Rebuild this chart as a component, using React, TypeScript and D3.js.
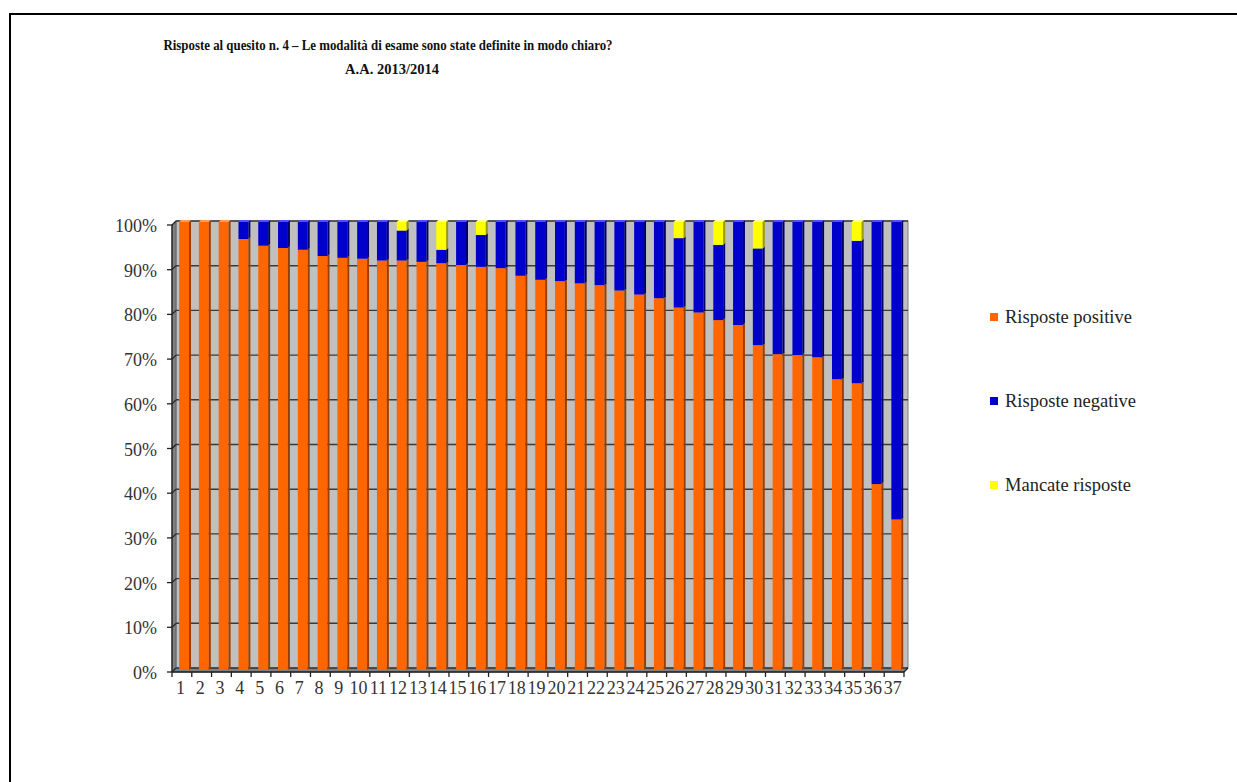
import React from 'react';
import * as d3 from 'd3';

const categories = ['1','2','3','4','5','6','7','8','9','10','11','12','13','14','15','16','17','18','19','20','21','22','23','24','25','26','27','28','29','30','31','32','33','34','35','36','37'];
const positive = [100,100,100,96.2,94.7,94.2,93.8,92.4,92.0,91.8,91.4,91.4,91.1,90.8,90.4,90.0,89.7,88.0,87.1,86.8,86.3,85.9,84.7,83.8,83.0,80.9,79.8,78.1,77.0,72.5,70.5,70.3,69.8,64.9,64.0,41.5,33.6];
const negative = [0,0,0,3.8,5.3,5.8,6.2,7.6,8.0,8.2,8.6,6.7,8.9,3.0,9.6,7.1,10.3,12.0,12.9,13.2,13.7,14.1,15.3,16.2,17.0,15.5,20.2,16.8,23.0,21.6,29.5,29.7,30.2,35.1,31.8,58.5,66.4];
const missing = [0,0,0,0,0,0,0,0,0,0,0,1.9,0,6.2,0,2.9,0,0,0,0,0,0,0,0,0,3.6,0,5.1,0,5.9,0,0,0,0,4.2,0,0];

const seriesKeys = ['pos','neg','miss'];
const seriesNames = ['Risposte positive','Risposte negative','Mancate risposte'];
const seriesColors = ['#FF6600','#0000CC','#FFFF00'];
const sideColors = ['#9A3E00','#000066','#9A9A00'];
const topColors = ['#FF9A5A','#5050FF','#FFFFA0'];
const yTicks = [0,10,20,30,40,50,60,70,80,90,100];
const titleLines = ['Risposte al quesito n. 4 \u2013 Le modalità di esame sono state definite in modo  chiaro?','A.A. 2013/2014'];

const FONT = "'Liberation Serif', 'DejaVu Serif', serif";

export default function App() {
  const W = 1237, H = 782;
  const dx = 4, dy = 4;
  const x = d3.scaleBand<string>().domain(categories).range([172, 904]);
  const yFront = d3.scaleLinear().domain([0, 100]).range([672, 225]);
  const yBack = d3.scaleLinear().domain([0, 100]).range([668, 221]);
  const yBar = d3.scaleLinear().domain([0, 100]).range([670, 222]);
  const bw = x.bandwidth();
  const fw = bw * 0.5;
  const fOff = bw * 0.36;
  const sd = 2;

  const rows = categories.map((c, i) => ({ cat: c, pos: positive[i], neg: negative[i], miss: missing[i] }));
  const stack = d3.stack<any>().keys(seriesKeys)(rows);

  const xL = 172, xR = 904;
  const yTop = yFront(100), yBot = yFront(0);

  const topIndex = rows.map(r => (r.miss > 0 ? 2 : r.neg > 0 ? 1 : 0));

  return (
    <svg width={W} height={H} style={{ position: 'absolute', left: 0, top: 0, background: '#fff' }} fontFamily={FONT}>
      <rect x={10} y={14} width={1400} height={1000} fill="#fff" stroke="#000" strokeWidth={2} />
      <text x={388} y={50} textAnchor="middle" fontWeight="bold" fontSize={14.5} fill="#111" textLength={449} lengthAdjust="spacingAndGlyphs">{titleLines[0]}</text>
      <text x={392} y={74} textAnchor="middle" fontWeight="bold" fontSize={14.5} fill="#111">{titleLines[1]}</text>
      {/* back wall */}
      <rect x={xL + dx} y={yBack(100)} width={xR - xL} height={yBack(0) - yBack(100)} fill="#C0C0C0" stroke="#808080" strokeWidth={1} />
      {/* left wall */}
      <polygon points={`${xL},${yTop} ${xL + dx},${yTop - dy} ${xL + dx},${yBot - dy} ${xL},${yBot}`} fill="#808080" stroke="#555" strokeWidth={0.8} />
      {/* floor */}
      <polygon points={`${xL},${yBot} ${xL + dx},${yBot - dy} ${xR + dx},${yBot - dy} ${xR},${yBot}`} fill="#808080" stroke="#555" strokeWidth={0.8} />
      {/* gridlines */}
      {yTicks.map(v => (
        <g key={v}>
          <line x1={xL + dx} x2={xR + dx} y1={yBack(v)} y2={yBack(v)} stroke="#3a3a3a" strokeWidth={1.4} />
          <line x1={xL} x2={xL + dx} y1={yFront(v)} y2={yBack(v)} stroke="#222" strokeWidth={1.2} />
        </g>
      ))}
      {/* bars */}
      {stack.map((s, si) => (
        <g key={si}>
          {s.map((d: any, i: number) => {
            if (d[1] - d[0] <= 0) return null;
            const bx = (x(d.data.cat) as number) + fOff;
            const y0 = yBar(d[0]);
            const y1 = yBar(d[1]);
            return (
              <g key={i}>
                <rect x={bx} y={y1} width={fw} height={y0 - y1} fill={seriesColors[si]} />
                <polygon points={`${bx + fw},${y1} ${bx + fw + sd},${y1 - sd} ${bx + fw + sd},${y0 - sd} ${bx + fw},${y0}`} fill={sideColors[si]} />
                {topIndex[i] === si && (
                  <polygon points={`${bx},${y1} ${bx + sd},${y1 - sd} ${bx + fw + sd},${y1 - sd} ${bx + fw},${y1}`} fill={topColors[si]} />
                )}
              </g>
            );
          })}
        </g>
      ))}
      {/* axes */}
      <line x1={xL} x2={xL} y1={yTop} y2={yBot} stroke="#222" strokeWidth={1.3} />
      <line x1={xL} x2={xR} y1={yBot} y2={yBot} stroke="#222" strokeWidth={1.3} />
      <line x1={xR} x2={xR + dx} y1={yBot} y2={yBot - dy} stroke="#222" strokeWidth={1.3} />
      {yTicks.map(v => (
        <g key={v}>
          <line x1={xL - 5} x2={xL} y1={yFront(v)} y2={yFront(v)} stroke="#222" strokeWidth={1.3} />
          <text x={157} y={yFront(v) + 7} textAnchor="end" fontSize={18} fill="#333">{v}%</text>
        </g>
      ))}
      {categories.map((c, i) => (
        <line key={'t' + c} x1={x(c) as number} x2={x(c) as number} y1={yBot} y2={yBot + 5} stroke="#222" strokeWidth={1.3} />
      ))}
      <line x1={xR} x2={xR} y1={yBot} y2={yBot + 5} stroke="#222" strokeWidth={1.3} />
      {categories.map(c => (
        <text key={'l' + c} x={(x(c) as number) + 8.5} y={694} textAnchor="middle" fontSize={18} fill="#333">{c}</text>
      ))}
      {/* legend */}
      {seriesNames.map((n, i) => {
        const cy = 317 + i * 84;
        return (
          <g key={n}>
            <rect x={990} y={cy - 4} width={8} height={8} fill={seriesColors[i]} />
            <text x={1005} y={cy + 6} fontSize={18.5} fill="#222">{n}</text>
          </g>
        );
      })}
    </svg>
  );
}
